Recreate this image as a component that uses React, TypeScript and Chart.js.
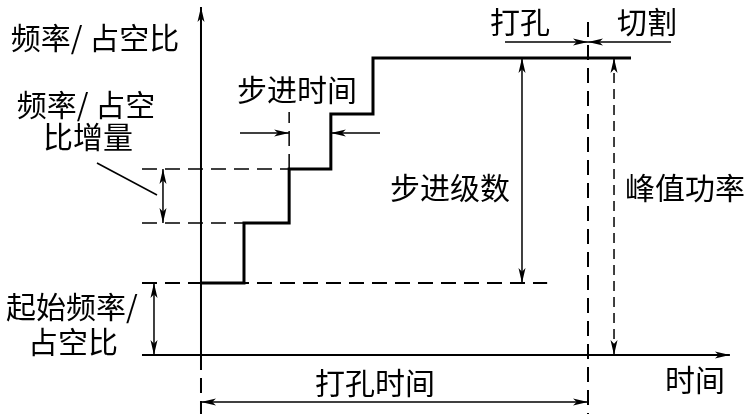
import React, { useEffect, useRef } from 'react';
import { Chart, registerables } from 'chart.js';

Chart.register(...registerables);

// Staircase: start time of each step and the frequency / duty-cycle level it rises to
const stepTimes = [0, 1, 2.05, 3.02, 4];
const levels = [1.31, 2.4, 3.38, 4.38, 5.4];
const punchEnd = 9; // end of piercing (打孔) time
const lineEnd = 10; // end of the drawn peak-power line (切割)

// Text labels
const axisYLabel = '频率/ 占空比';
const axisXLabel = '时间';
const incLabel = ['频率/ 占空', '比增量'];
const startLabel = ['起始频率/', '占空比'];
const stepTimeLabel = '步进时间';
const stepCountLabel = '步进级数';
const peakLabel = '峰值功率';
const punchLabel = '打孔';
const cutLabel = '切割';
const punchTimeLabel = '打孔时间';

const X_MIN = -4.674;
const X_MAX = 12.744;
const Y_MIN = -1.073;
const Y_MAX = 6.4545;

const FONT = '30px "Noto Sans CJK SC", "Noto Sans", sans-serif';

const diagramPlugin = {
  id: 'diagram',
  afterDatasetsDraw(chart: any) {
    const { ctx, scales } = chart;
    const X = (v: number) => scales.x.getPixelForValue(v);
    const Y = (v: number) => scales.y.getPixelForValue(v);

    const line = (x1: number, y1: number, x2: number, y2: number, w: number, dash: number[] = []) => {
      ctx.save();
      ctx.strokeStyle = '#000';
      ctx.lineWidth = w;
      ctx.setLineDash(dash);
      ctx.beginPath();
      ctx.moveTo(X(x1), Y(y1));
      ctx.lineTo(X(x2), Y(y2));
      ctx.stroke();
      ctx.restore();
    };
    const head = (tx: number, ty: number, fx: number, fy: number, len = 15, hw = 3.5) => {
      const px = X(tx), py = Y(ty);
      const qx = X(fx), qy = Y(fy);
      const dx = px - qx, dy = py - qy;
      const d = Math.hypot(dx, dy) || 1;
      const ux = dx / d, uy = dy / d;
      const bx = px - ux * len, by = py - uy * len;
      const mx = px - ux * len * 0.75, my = py - uy * len * 0.75;
      ctx.save();
      ctx.fillStyle = '#000';
      ctx.beginPath();
      ctx.moveTo(px, py);
      ctx.lineTo(bx - uy * hw, by + ux * hw);
      ctx.lineTo(mx, my);
      ctx.lineTo(bx + uy * hw, by - ux * hw);
      ctx.closePath();
      ctx.fill();
      ctx.restore();
    };
    const arrow = (x1: number, y1: number, x2: number, y2: number, w: number, dash: number[] = [], both = false) => {
      line(x1, y1, x2, y2, w, dash);
      head(x2, y2, x1, y1);
      if (both) head(x1, y1, x2, y2);
    };
    const text = (s: string, x: number, y: number) => {
      ctx.save();
      ctx.fillStyle = '#000';
      ctx.font = FONT;
      ctx.textAlign = 'center';
      ctx.textBaseline = 'middle';
      ctx.fillText(s, X(x), Y(y));
      ctx.restore();
    };

    const dash = [15, 8];
    const xLeft = -1.372;

    // axes
    arrow(0, 0, 0, 6.327, 2);
    line(0, 0, 0, Y_MIN, 2, dash);
    arrow(xLeft, 0, 12.3, 0, 2);

    // punch/cut boundary
    line(punchEnd, 6.055, punchEnd, Y_MIN, 2, dash);

    // dashed level references
    line(xLeft, levels[0], 8.05, levels[0], 2, dash);
    line(xLeft, levels[1], stepTimes[1], levels[1], 1.5, dash);
    line(xLeft, levels[2], stepTimes[2], levels[2], 1.5, dash);
    line(stepTimes[2], levels[2], stepTimes[2], levels[3] + 0.04, 1.5, dash);

    // increment arrow + leader
    arrow(-0.884, levels[1], -0.884, levels[2], 1.5, [], true);
    line(-2.419, 3.491, -1.023, 2.909, 1.5);

    // start level arrow
    arrow(-1.093, 0, -1.093, levels[0], 1.5, [], true);

    // step count
    arrow(7.465, levels[0], 7.465, levels[4], 1.5, [], true);

    // peak power (dashed)
    arrow(9.605, 0, 9.605, levels[4], 1.5, [10, 6], true);

    // step time arrows
    arrow(0.907, 4.036, stepTimes[2], 4.036, 1.5);
    arrow(4.163, 4.036, stepTimes[3], 4.036, 1.5);

    // punch / cut arrows
    arrow(7.07, 5.691, punchEnd, 5.691, 1.5);
    arrow(10.93, 5.691, punchEnd, 5.691, 1.5);

    // punch time
    arrow(0, -0.855, punchEnd, -0.855, 1.5, [], true);

    // labels
    text(axisYLabel, -2.465, 5.764);
    text(incLabel[0], -2.674, 4.545);
    text(incLabel[1], -2.628, 3.964);
    text(startLabel[0], -3.0, 0.873);
    text(startLabel[1], -2.977, 0.236);
    text(stepTimeLabel, 2.233, 4.818);
    text(punchLabel, 7.419, 6.055);
    text(cutLabel, 10.372, 6.055);
    text(stepCountLabel, 5.791, 3.036);
    text(peakLabel, 11.256, 3.036);
    text(axisXLabel, 11.488, -0.455);
    text(punchTimeLabel, 4.047, -0.509);
  },
};

export default function App() {
  const ref = useRef<HTMLCanvasElement>(null);
  useEffect(() => {
    if (!ref.current) return;
    const pts = stepTimes.map((t, i) => ({ x: t, y: levels[i] }));
    pts.push({ x: lineEnd, y: levels[levels.length - 1] });
    const chart = new Chart(ref.current, {
      type: 'line',
      data: {
        datasets: [
          {
            data: pts,
            borderColor: '#000',
            borderWidth: 3,
            pointRadius: 0,
            stepped: 'before',
            fill: false,
          },
        ],
      },
      options: {
        responsive: false,
        animation: false,
        devicePixelRatio: 1,
        layout: { padding: 0 },
        plugins: { legend: { display: false }, tooltip: { enabled: false } },
        scales: {
          x: { type: 'linear', min: X_MIN, max: X_MAX, display: false },
          y: { type: 'linear', min: Y_MIN, max: Y_MAX, display: false },
        },
      },
      plugins: [diagramPlugin],
    });
    return () => chart.destroy();
  }, []);
  return (
    <div style={{ position: 'fixed', left: 0, top: 0, width: 749, height: 414, background: '#fff' }}>
      <canvas ref={ref} width={749} height={414} />
    </div>
  );
}
